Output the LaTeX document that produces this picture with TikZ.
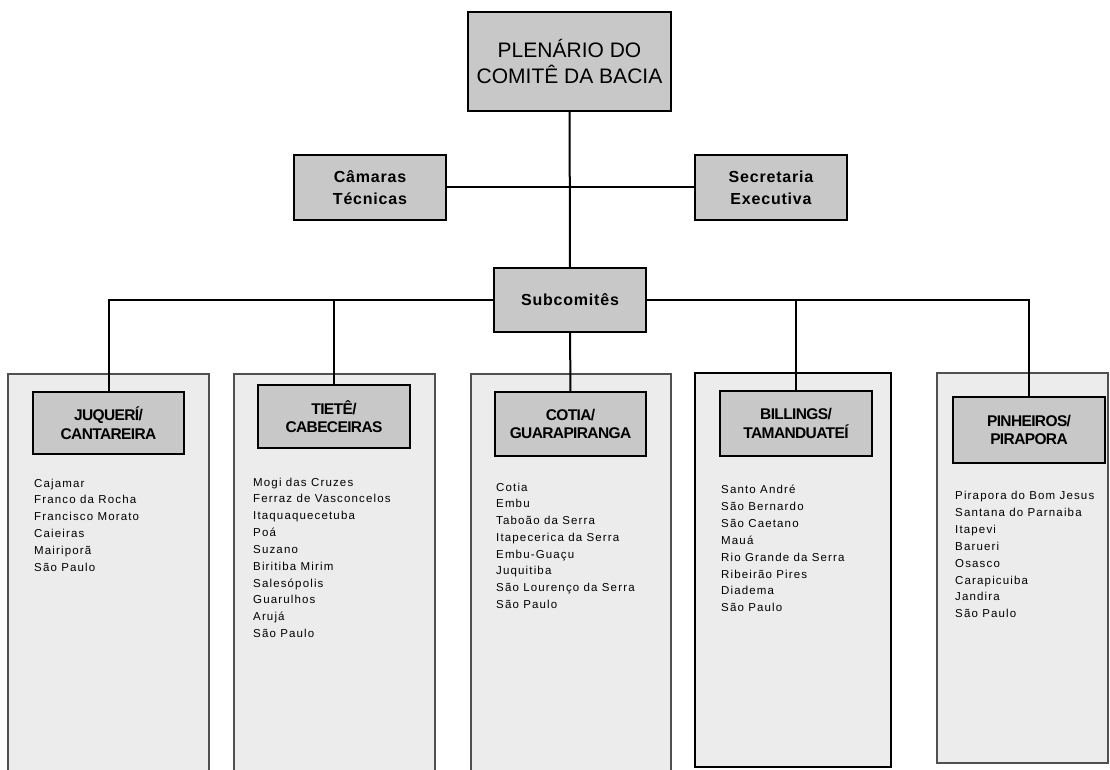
\documentclass[tikz,border=0pt]{standalone}
\usepackage{fontspec}
\setmainfont{Liberation Sans}
\newfontfamily\rotulofont[LetterSpace=5]{Liberation Sans}
\newfontfamily\estreitofont[LetterSpace=-4]{Liberation Sans}
\newfontfamily\listafont[LetterSpace=10]{Liberation Sans}
\definecolor{caixa}{HTML}{C8C8C8}
\definecolor{painel}{HTML}{ECECEC}
\definecolor{borda}{HTML}{505050}

\begin{document}
\begin{tikzpicture}[x=1pt, y=-1pt,
    caixa/.style={draw, line width=2pt, fill=caixa, inner sep=0pt, align=center,
        minimum width=152pt},
    subcaixa/.style={caixa, minimum height=64pt,
        font=\estreitofont\fontsize{15.5}{18.5}\selectfont\bfseries},
    fundo/.style={fill=painel, draw=borda, line width=1.4pt},
    cidade/.style={anchor=base west, inner sep=0pt,
        font=\listafont\fontsize{11.5}{14}\selectfont},
    ligacao/.style={line width=2pt}]
    % 固定画布大小
    \useasboundingbox (0,0) rectangle (1110,770);

    % 绘制五个子委员会的浅灰底板
    \draw[fundo] (8,374) rectangle (209,775);
    \draw[fundo] (234,374) rectangle (435,775);
    \draw[fundo] (471,374) rectangle (671,775);
    \draw[fundo, draw=black, line width=2.4pt] (695,373) rectangle (891,767);
    \draw[fundo] (937,373) rectangle (1108,763);

    % 绘制上方的全体会议、技术会议与执行秘书处
    \node[caixa, minimum width=203pt, minimum height=99pt,
        font=\fontsize{21}{25.5}\selectfont] (plenario) at (569.5,61.5)
        {PLENÁRIO DO\\COMITÊ DA BACIA};
    \node[caixa, minimum height=65pt, font=\rotulofont\fontsize{16}{21.7}\selectfont\bfseries]
        (camaras) at (370,187.5) {Câmaras\\Técnicas};
    \node[caixa, minimum height=65pt, font=\rotulofont\fontsize{16}{21.7}\selectfont\bfseries]
        (secretaria) at (771,187.5) {Secretaria\\Executiva};

    % 绘制Subcomitês
    \node[caixa, minimum height=64pt, font=\rotulofont\fontsize{16}{20}\selectfont\bfseries]
        (subcomites) at (570,300) {Subcomitês};

    % 绘制五个子委员会标题
    \node[subcaixa, minimum width=151pt, minimum height=62pt] (juqueri) at (108.5,423)
        {JUQUERÍ/\\CANTAREIRA};
    \node[subcaixa, minimum height=63pt] (tiete) at (334,416.5) {TIETÊ/\\CABECEIRAS};
    \node[subcaixa, minimum width=151pt] (cotia) at (570.5,424) {COTIA/\\GUARAPIRANGA};
    \node[subcaixa, minimum height=65pt] (billings) at (796,423.5) {BILLINGS/\\TAMANDUATEÍ};
    \node[subcaixa, minimum height=66pt] (pinheiros) at (1029,430) {PINHEIROS/\\PIRAPORA};

    % 绘制上方连线
    \draw[ligacao] (plenario) -- (subcomites);
    \draw[ligacao] (camaras) -- (secretaria);

    % 绘制Subcomitês到各子委员会的连线
    \draw[ligacao] (subcomites) -| (juqueri);
    \draw[ligacao] (subcomites) -| (tiete);
    \draw[ligacao] (subcomites) -- (cotia);
    \draw[ligacao] (subcomites) -| (billings);
    \draw[ligacao] (subcomites) -| (pinheiros);

    % 列出各子委员会的城市
    \foreach \cid [count=\i] in {Cajamar, Franco da Rocha, Francisco Morato, Caieiras,
        Mairiporã, São Paulo}
        \node[cidade] (juq-\i) at (34, 487 + 16.8*\i - 16.8) {\cid};
    \foreach \cid [count=\i] in {Mogi das Cruzes, Ferraz de Vasconcelos, Itaquaquecetuba,
        Poá, Suzano, Biritiba Mirim, Salesópolis, Guarulhos, Arujá, São Paulo}
        \node[cidade] (tie-\i) at (253, 486 + 16.85*\i - 16.85) {\cid};
    \foreach \cid [count=\i] in {Cotia, Embu, Taboão da Serra, Itapecerica da Serra,
        Embu-Guaçu, Juquitiba, São Lourenço da Serra, São Paulo}
        \node[cidade] (cot-\i) at (496, 491 + 16.75*\i - 16.75) {\cid};
    \foreach \cid [count=\i] in {Santo André, São Bernardo, São Caetano, Mauá,
        Rio Grande da Serra, Ribeirão Pires, Diadema, São Paulo}
        \node[cidade] (bil-\i) at (721, 493.5 + 16.9*\i - 16.9) {\cid};
    \foreach \cid [count=\i] in {Pirapora do Bom Jesus, Santana do Parnaiba, Itapevi,
        Barueri, Osasco, Carapicuiba, Jandira, São Paulo}
        \node[cidade] (pin-\i) at (955, 499.5 + 16.9*\i - 16.9) {\cid};
\end{tikzpicture}
\end{document}
